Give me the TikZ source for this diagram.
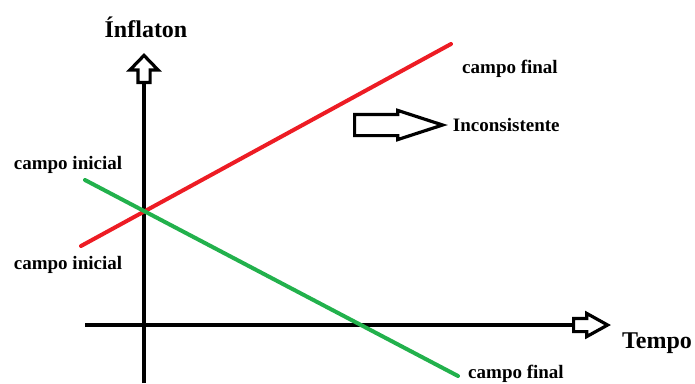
\documentclass[tikz,border=0pt]{standalone}
\usepackage{fontspec}
\setmainfont{Liberation Serif}
\usepackage{tikz}
\usetikzlibrary{shapes.arrows, positioning}
\definecolor{paintred}{RGB}{237,28,36}
\definecolor{paintgreen}{RGB}{34,177,76}
\tikzset{
  axis/.style     = {line width=4pt, draw=black},
  field/.style    = {line width=4pt, line cap=round},
  blockarr/.style = {single arrow, draw=black, line width=3.2pt, fill=white,
                     inner xsep=0pt, single arrow head indent=0pt, anchor=tail},
  lbl/.style      = {font=\bfseries\fontsize{19}{21}\selectfont, inner sep=0pt},
  biglbl/.style   = {font=\bfseries\fontsize{24}{26}\selectfont, inner sep=0pt},
}

\begin{document}
\begin{tikzpicture}[x=1pt, y=-1pt]
  \useasboundingbox (0,0) rectangle (695,383);

  % axes
  \coordinate (ybot) at (144,383);
  \coordinate (ytop) at (144,84);
  \coordinate (xleft) at (85,325);
  \coordinate (xright) at (572,325);
  \draw[axis] (ybot) -- (ytop);
  \draw[axis] (xleft) -- (xright);

  % hollow arrow heads of the axes
  \node[blockarr, rotate=90, inner ysep=4.5pt, minimum height=27pt,
        single arrow head extend=8pt, single arrow tip angle=88] (yarr) at (ytop) {};
  \node[blockarr, inner ysep=5pt, minimum height=34pt,
        single arrow head extend=5pt, single arrow tip angle=58] (xarr) at (xright) {};

  % the two fields
  \coordinate (redA) at (81,246);
  \coordinate (redB) at (451,44);
  \coordinate (grnA) at (85,180);
  \coordinate (grnB) at (458,376);
  \draw[field, paintred] (redA) -- (redB);
  \draw[field, paintgreen] (grnA) -- (grnB);

  \node[blockarr, inner ysep=9pt, minimum height=88pt,
        single arrow head extend=4pt, single arrow tip angle=36] (incarr) at (353,125) {};

  \node[biglbl] (yname) at (146,27) {Ínflaton};
  \node[biglbl] (xname) at (657,343) {Tempo};
  \node[lbl] (redfin) at (510,69) {campo final};
  \node[lbl] (grnini) at (68,165) {campo inicial};
  \node[lbl] (redini) at (68,265) {campo inicial};
  \node[lbl] (grnfin) at (516,374) {campo final};
  \node[lbl, right=5pt of incarr.tip] (incons) {Inconsistente};
\end{tikzpicture}
\end{document}
